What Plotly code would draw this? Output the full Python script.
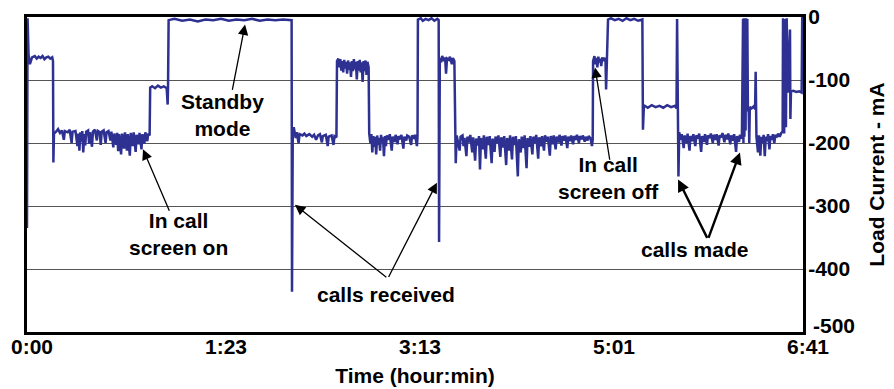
import plotly.graph_objects as go

# ---- data ----
# x = sample position (0..400, evenly spaced labelled ticks), y = load current in mA
samples = [
    (0, -335), (0.3, -2), (0.8, -60), (1.5, -75), (2.6, -64),
    (4, -62), (5, -66), (6, -63), (7, -65), (8, -62), (9, -67), (10, -64), (11, -63), (12, -66), (13, -64), (13.4, -70),
    (13.6, -231), (13.9, -185),
    (15, -182), (16, -178), (17, -184), (18, -180), (19, -195), (19.5, -181), (21, -183), (22, -179), (23, -200), (23.5, -182),
    (25, -181), (26, -205), (26.5, -185), (27, -212), (27.5, -183), (28, -198), (28.5, -181), (29, -215), (29.5, -186),
    (30, -204), (30.5, -182), (31.5, -180), (32, -201), (32.5, -183), (33.5, -206), (34, -182), (35, -179), (36, -196),
    (36.5, -181), (37.5, -183), (38, -203), (38.5, -182), (39.5, -180), (40.5, -200), (41, -183), (42, -181), (43, -196),
    (43.5, -182), (44.5, -207), (45, -185), (46, -203), (46.5, -184), (47, -213), (47.5, -186), (48.5, -218), (49, -185),
    (50, -209), (50.5, -183), (51.5, -212), (52, -186), (53, -220), (53.5, -184), (54.5, -205), (55, -183), (56, -214),
    (56.5, -187), (57.5, -202), (58, -184), (59, -210), (59.5, -186), (60.5, -201), (61, -183), (62, -197), (62.5, -185),
    (63.2, -188),
    (63.5, -112), (64.5, -110), (66, -113), (67.5, -109), (69, -112), (70.5, -110), (72, -113), (72.5, -139), (72.7, -110),
    (73, -5), (76, -3), (80, -6), (84, -4), (88, -7), (92, -4), (96, -5), (100, -3), (104, -6), (108, -4), (112, -5),
    (116, -3), (120, -6), (124, -4), (128, -5), (132, -4), (136.4, -5),
    (136.6, -436), (137, -180), (137.5, -175),
    (138.5, -192), (139, -183), (140, -200), (140.5, -186), (142, -188), (143, -185), (144, -189), (145.5, -186),
    (147, -190), (148, -187), (149, -195), (150, -188), (151, -186), (152, -199), (152.5, -189), (154, -187), (155, -205),
    (155.5, -190), (157, -188), (158, -203), (158.5, -189), (159.5, -191),
    (159.8, -70), (160.5, -66), (161, -80), (161.5, -67), (162, -85), (162.5, -70), (163, -88), (163.5, -68), (164, -82),
    (164.5, -71), (165, -90), (165.5, -69), (166, -84), (166.5, -72), (167, -95), (167.5, -70), (168, -86), (168.5, -67),
    (169, -83), (169.5, -71), (170, -99), (170.5, -70), (171, -85), (171.5, -68), (172, -88), (172.5, -72), (173, -103),
    (173.5, -70), (174, -86), (174.5, -69), (175, -92), (175.5, -71), (176.1, -80),
    (176.4, -185), (177, -200), (177.5, -186), (178, -215), (178.5, -189), (179, -206), (179.5, -190), (180, -218),
    (180.5, -188), (181, -203), (181.5, -192), (182, -212), (182.5, -187), (183, -199), (183.5, -191), (184, -221),
    (184.5, -189), (185, -205), (185.5, -188), (186.5, -195), (187, -186), (188, -212), (188.5, -190), (189.5, -198),
    (190, -187), (191, -202), (191.5, -189), (192.5, -194), (193, -187), (194, -209), (194.5, -190), (195.5, -196),
    (196, -188), (197, -190), (198, -203), (198.5, -188), (199.5, -193), (200, -187), (201, -205), (201.3, -190),
    (201.5, -4), (203, -2), (204, -6), (205.5, -3), (207, -5), (208.5, -2), (210, -6), (211.5, -3), (212.2, -5),
    (212.4, -357), (212.8, -65),
    (213.5, -72), (214, -62), (215, -70), (215.5, -64), (216, -90), (216.5, -66), (217.5, -68), (218, -63), (219, -75),
    (219.5, -65), (220.3, -70),
    (220.6, -190), (221, -232), (221.5, -188),
    (222, -195), (223, -212), (223.5, -190), (224.5, -188), (225, -205), (225.5, -192), (226.5, -221), (227, -190),
    (228, -199), (228.5, -187), (229.5, -215), (230, -191), (231, -228), (231.5, -193), (232.5, -204), (233, -189),
    (233.5, -242), (234, -192), (235, -210), (235.5, -188), (236.5, -225), (237, -190), (238, -203), (238.5, -189),
    (239.5, -232), (240, -193), (241, -214), (241.5, -190), (242.5, -200), (243, -188), (244, -222), (244.5, -191),
    (245.5, -207), (246, -189), (247, -235), (247.5, -192), (248.5, -212), (249, -188), (250, -226), (250.5, -190),
    (251.5, -203), (252, -189), (253, -253), (253.5, -194), (254.5, -215), (255, -190), (256, -208), (256.5, -188),
    (257.5, -240), (258, -192), (259, -206), (259.5, -189), (260.5, -218), (261, -190), (262, -200), (262.5, -187),
    (263.5, -225), (264, -191), (265, -205), (265.5, -189), (266.5, -212), (267, -188), (268, -198), (268.5, -190),
    (269.5, -220), (270, -189), (271, -202), (271.5, -188), (272.5, -210), (273, -190), (274, -199), (274.5, -187),
    (275.5, -204), (276, -189), (277, -196), (277.5, -188), (278.5, -208), (279, -190), (280, -197), (280.5, -188),
    (281.5, -202), (282, -189), (283, -195), (283.5, -187), (284.5, -200), (285, -189), (286, -194), (286.5, -188),
    (287.5, -198), (288, -190), (289, -196), (289.5, -189), (290.5, -193), (291.2, -205), (291.6, -195),
    (291.8, -70), (292.5, -62), (293, -75), (293.5, -65), (294, -80), (294.5, -63), (295, -72), (295.5, -66), (296, -78),
    (296.5, -64), (297, -70), (297.5, -65), (298.2, -68), (298.5, -115), (298.8, -66),
    (299.5, -4), (301, -2), (303, -5), (305, -3), (307, -6), (309, -2), (311, -5), (313, -3), (315, -6), (317.2, -4),
    (317.5, -179), (318, -140), (320, -144), (322, -140), (324, -143), (326, -141), (328, -144), (330, -140), (332, -143),
    (334, -141), (334.8, -145),
    (335.1, -3), (335.4, -120), (335.6, -60), (335.8, -253), (336.2, -183),
    (337, -195), (337.5, -186), (338.5, -208), (339, -188), (340, -200), (340.5, -185), (341.5, -212), (342, -189),
    (343, -197), (343.5, -186), (344.5, -205), (345, -188), (346, -193), (346.5, -185), (347.5, -214), (348, -189),
    (349, -198), (349.5, -186), (350.5, -203), (351, -188), (352, -192), (352.5, -185), (353.5, -200), (354, -187),
    (355, -195), (355.5, -186), (356.5, -204), (357, -188), (358, -191), (358.5, -184), (359.5, -199), (360, -187),
    (361, -194), (361.5, -185), (362.5, -202), (363, -188), (364, -196), (364.5, -186), (365.5, -214), (366, -189),
    (367, -198), (367.5, -187), (368.5, -193),
    (369.1, -3), (369.3, -200), (369.5, -2), (369.8, -190), (370.1, -4), (370.4, -180), (370.7, -2), (371, -150),
    (371.3, -3), (371.6, -144),
    (372, -145), (372.3, -200), (372.6, -143), (373.5, -145), (374.5, -142), (375.3, -146), (375.6, -87), (376, -190),
    (376.8, -215), (377.3, -188), (378, -220), (378.5, -190), (379.2, -200), (379.7, -187), (380.3, -221), (380.8, -190),
    (381.5, -197), (382, -186), (382.7, -210), (383.2, -189), (384, -195), (384.5, -186), (385.2, -200), (385.8, -187),
    (386.5, -191), (387.2, -185), (388, -190), (388.8, -184), (389.5, -182),
    (389.7, -2), (390.3, -185), (390.6, -3), (391.2, -175), (391.6, -2), (392.2, -120), (393.3, -20), (393.5, -162),
    (393.8, -118), (395, -117), (396.5, -119), (398, -118), (399.3, -120), (399.6, 0),
]
time_idx = [p[0] for p in samples]
current_ma = [p[1] for p in samples]

x_tick_vals = [0, 100, 200, 300, 400]
x_tick_text = ["0:00", "1:23", "3:13", "5:01", "6:41"]
y_tick_vals = [0, -100, -200, -300, -400]
y_tick_text = ["0", "-100", "-200", "-300", "-400"]
y_bottom_label = "-500"

FONT = "Liberation Sans"
BLUE = "#2E3192"
FS = 21

fig = go.Figure()
fig.add_trace(go.Scatter(
    x=time_idx, y=current_ma, mode="lines",
    line=dict(color=BLUE, width=2.5), hoverinfo="skip", showlegend=False,
))

fig.update_layout(
    width=894, height=389,
    margin=dict(l=27, r=91, t=17, b=57),
    paper_bgcolor="white", plot_bgcolor="white",
    font=dict(family=FONT, size=FS, color="black", weight="bold"),
    xaxis=dict(
        range=[0, 400], tickvals=x_tick_vals, ticktext=x_tick_text,
        showgrid=False, zeroline=False, ticks="", automargin=False,
        showline=True, linecolor="black", linewidth=3, mirror=True,
        tickfont=dict(family=FONT, size=FS, weight="bold"),
        ticklabelshift=5, ticklabelstandoff=-6,
        title=dict(text="Time (hour:min)", standoff=12,
                   font=dict(family=FONT, size=FS, weight="bold")),
    ),
    yaxis=dict(
        range=[-500, 0], side="right", tickvals=y_tick_vals, ticktext=y_tick_text,
        showgrid=True, gridcolor="#555555", gridwidth=1, zeroline=False, ticks="", automargin=False,
        showline=True, linecolor="black", linewidth=3, mirror=True,
        tickfont=dict(family=FONT, size=FS, weight="bold"),
        ticklabelstandoff=-2,
        title=dict(text="Load Current - mA", standoff=21,
                   font=dict(family=FONT, size=FS, weight="bold")),
    ),
)

# bottom y label, sitting slightly above the axis end as in the original
fig.add_annotation(x=1, xref="paper", y=-490, yref="y", text=y_bottom_label, showarrow=False,
                   xanchor="left", yanchor="middle", xshift=8,
                   font=dict(family=FONT, size=FS, weight="bold", color="black"))

# ---- text labels (two-line labels wrapped) ----
labels = [
    ("Standby<br>mode", 101, -155),
    ("In call<br>screen on", 78, -344),
    ("calls received", 185, -440),
    ("In call<br>screen off", 299.5, -255),
    ("calls made", 344, -369),
]
for txt, x, y in labels:
    fig.add_annotation(x=x, y=y, xref="x", yref="y", text=txt, showarrow=False,
                       font=dict(family=FONT, size=FS, weight="bold", color="black"),
                       xanchor="center", yanchor="middle", align="center")

# ---- arrows (head, tail) ----
arrows = [
    ((112.4, -12), (105.7, -118), 1.3),
    ((59.8, -210), (73.7, -310), 1.3),
    ((138.1, -298), (186, -415), 1.3),
    ((211.3, -263), (186, -415), 1.3),
    ((292.8, -80), (300.5, -229), 1.3),
    ((335.6, -258), (351, -353), 2.4),
    ((367.5, -215), (351, -353), 2.4),
]
for (hx, hy), (tx, ty), w in arrows:
    fig.add_annotation(x=hx, y=hy, ax=tx, ay=ty, xref="x", yref="y", axref="x", ayref="y",
                       text="", showarrow=True, arrowhead=2, arrowsize=1.6 if w < 2 else 1.0,
                       arrowwidth=w, arrowcolor="black", standoff=0)

fig.write_html("out.html", config={"displayModeBar": False},
               post_script="document.body.style.margin='0';")
